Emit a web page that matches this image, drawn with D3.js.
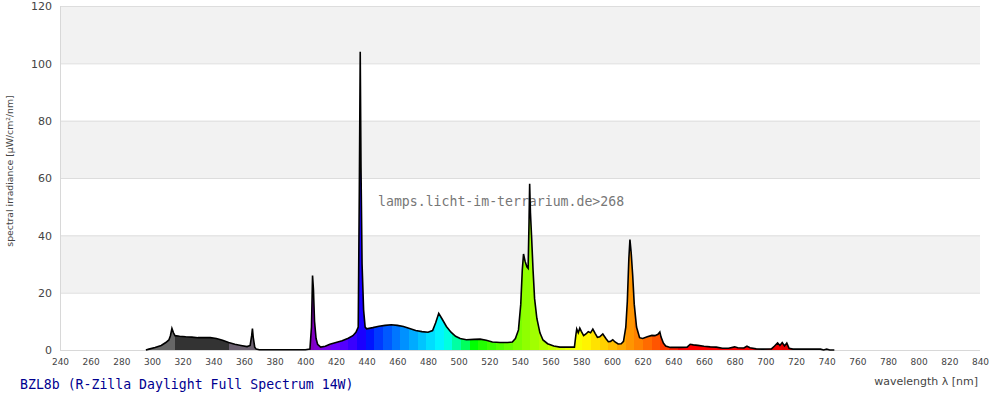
<!DOCTYPE html>
<html>
<head>
<meta charset="utf-8">
<script src="https://cdn.jsdelivr.net/npm/d3@7"></script>
<style>
  body { margin: 0; background: #fff; }
  .tickY text { font-family: "DejaVu Sans", sans-serif; font-size: 11px; fill: #444; }
  .tickX text { font-family: "DejaVu Sans", sans-serif; font-size: 9px; fill: #444; }
</style>
</head>
<body>
<div id="chart"></div>
<script>
const WIDTH = 1000;
const HEIGHT = 400;
const X_MIN = 240, X_MAX = 840;
const Y_MIN = 0, Y_MAX = 120;

const TITLE = "BZL8b (R-Zilla Daylight Full Spectrum 14W)";
const WATERMARK = "lamps.licht-im-terrarium.de>268";
const X_LABEL = "wavelength λ [nm]";
const Y_LABEL = "spectral irradiance [µW/cm²/nm]";

const xTicks = d3.range(240, 841, 20);
const yTicks = [0, 20, 40, 60, 80, 100, 120];

const wavelengths = [
  296, 298, 302, 306, 309, 311, 312, 313, 314, 315, 318, 322, 326, 330, 334, 338, 342, 346, 350,
  354, 358, 362, 364, 365, 365.5, 366, 367, 368, 370, 380, 400, 403, 404, 404.7, 405.3, 406, 407, 408, 410,
  413, 416, 420, 424, 428, 431, 433, 434.5, 435.2, 435.8, 436.3, 437, 438, 439, 440, 444, 448, 452, 456, 460,
  464, 468, 472, 476, 480, 483, 485, 487, 489, 492, 495, 498, 501, 505, 510, 514, 518, 522, 527, 532,
  535, 537, 539, 540.5, 541.5, 542.3, 543.3, 544.5, 545.3, 545.9, 546.3, 546.8, 547.6, 548.5, 549.5, 551, 553, 555, 558, 562,
  566, 570, 575.5, 576.5, 577, 578, 579, 580, 581.5, 583, 584.5, 586, 587.5, 589, 590.5, 592, 594, 596, 597.6, 599,
  600.5, 602, 604, 606, 607.5, 609, 610, 611, 611.7, 612.5, 613.5, 614.5, 616, 618, 620, 623, 626, 628, 630, 631.2,
  632, 633.5, 635, 638, 645, 649, 651, 653, 656, 660, 664, 668, 672, 676, 680, 682, 686, 688, 690, 694,
  698, 704, 706, 708, 709.5, 711, 712.5, 714, 715.5, 718, 730, 736, 738, 740, 742, 745
];
const irradiance = [
  0, 0.3, 0.9, 1.6, 2.6, 3.5, 5.0, 7.5, 6.0, 5.0, 4.8, 4.6, 4.5, 4.3, 4.3, 4.3, 4.0, 3.4, 2.6,
  2.0, 1.6, 1.2, 1.6, 5.0, 7.5, 4.5, 1.0, 0.3, 0.1, 0.1, 0.1, 0.3, 8, 26, 21, 10, 4, 2.0, 1.0,
  1.3, 2.0, 2.6, 3.2, 4.1, 5.0, 6.2, 8, 55, 104, 64, 30, 14, 8, 7.4, 7.8, 8.3, 8.6, 8.8, 8.6,
  8.2, 7.5, 6.8, 6.4, 6.2, 6.8, 9.5, 12.8, 11, 8.2, 6.2, 4.8, 4.0, 3.6, 3.7, 3.8, 3.4, 2.8, 2.6, 2.6,
  2.8, 4.0, 7, 16, 28, 33.5, 31, 29, 28.5, 45, 58, 48, 39, 28, 18, 11, 6, 3.5, 2.2, 1.4,
  1.0, 1.0, 1.0, 5.5, 7.3, 6.0, 7.6, 6.5, 5.0, 5.6, 6.4, 6.0, 7.3, 5.8, 4.4, 4.6, 5.6, 4.0, 2.9, 3.0,
  3.6, 2.8, 2.1, 2.2, 3.0, 8, 17, 32, 38.5, 34, 26, 16, 8, 4.3, 4.0, 4.6, 5.1, 5.0, 5.5, 6.3,
  4.5, 2.4, 1.4, 0.9, 0.9, 1.0, 2.0, 1.8, 1.6, 1.3, 1.1, 1.0, 0.6, 0.6, 1.1, 0.8, 0.7, 1.3, 0.8, 0.4,
  0.3, 0.4, 1.4, 2.5, 1.6, 2.6, 1.4, 2.4, 0.6, 0.3, 0.3, 0.3, 0, 0.3, 0, 0
];

const spectrum = wavelengths.map((w, i) => ({ w: w, v: irradiance[i] }));

const x = d3.scaleLinear().domain([X_MIN, X_MAX]).range([60, 980]);
const y = d3.scaleLinear().domain([Y_MIN, Y_MAX]).range([350, 6]);

const svg = d3.select("#chart").append("svg")
    .attr("width", WIDTH)
    .attr("height", HEIGHT);

// alternating bands
for (let i = 0; i < yTicks.length - 1; i++) {
    svg.append("rect")
        .attr("x", x(X_MIN))
        .attr("y", y(yTicks[i + 1]))
        .attr("width", x(X_MAX) - x(X_MIN))
        .attr("height", y(yTicks[i]) - y(yTicks[i + 1]))
        .attr("fill", i % 2 == 1 ? "#f2f2f2" : "#ffffff");
}

// grid lines
svg.append("g")
    .selectAll("line")
    .data(yTicks.slice(1))
    .join("line")
    .attr("x1", x(X_MIN)).attr("x2", x(X_MAX))
    .attr("y1", d => y(d) + 0.5).attr("y2", d => y(d) + 0.5)
    .attr("stroke", "#dddddd");

// axis lines
svg.append("line")
    .attr("x1", x(X_MIN) + 0.5).attr("x2", x(X_MIN) + 0.5)
    .attr("y1", y(Y_MAX)).attr("y2", y(0))
    .attr("stroke", "#d8d8d8");
svg.append("line")
    .attr("x1", x(X_MIN)).attr("x2", x(X_MAX))
    .attr("y1", y(0) + 0.5).attr("y2", y(0) + 0.5)
    .attr("stroke", "#d8d8d8");

// axes labels
const yAxis = svg.append("g")
    .attr("class", "tickY")
    .attr("transform", `translate(${x(X_MIN) - 8},0)`)
    .call(d3.axisLeft(y).tickValues(yTicks).tickSize(0).tickPadding(0));
yAxis.select(".domain").remove();
yAxis.selectAll("text").attr("dy", "0.35em");

const xAxis = svg.append("g")
    .attr("class", "tickX")
    .attr("transform", `translate(0,${y(0) + 9})`)
    .call(d3.axisBottom(x).tickValues(xTicks).tickSize(0).tickPadding(0));
xAxis.select(".domain").remove();

// watermark (under the spectrum)
svg.append("text")
    .attr("x", 378)
    .attr("y", 206)
    .attr("font-family", "'DejaVu Sans Mono', monospace")
    .attr("font-size", 13.2)
    .attr("fill", "#777")
    .text(WATERMARK);

// wavelength -> colour
const waveColor = (l) => {
    if (l < 315) return "#666666";
    if (l < 350) return "#333333";
    if (l < 382) return "#6b6070";
    let r = 0, g = 0, b = 0;
    if (l < 440) { r = -(l - 440) / 60; b = 1; }
    else if (l < 490) { g = (l - 440) / 50; b = 1; }
    else if (l < 510) { g = 1; b = -(l - 510) / 20; }
    else if (l < 580) { r = (l - 510) / 70; g = 1; }
    else if (l < 645) { r = 1; g = -(l - 645) / 65; }
    else { r = 1; }
    let f = 1;
    if (l < 420) f = 0.3 + 0.7 * (l - 380) / 40;
    else if (l > 700) f = 0.3 + 0.7 * (780 - l) / 80;
    const c = (v) => Math.round(255 * Math.pow(v * f, 0.8));
    return d3.rgb(c(r), c(g), c(b)).formatHex();
};

// hard-step gradient: UV bands, then visible bins of ~5.65 nm
const binEdges = [240, 315, 350];
for (let e = 445 - 5.65 * 11; e < 800; e += 5.65) binEdges.push(e);
binEdges.push(840);

const grad = svg.append("defs").append("linearGradient")
    .attr("id", "specGrad")
    .attr("gradientUnits", "userSpaceOnUse")
    .attr("x1", x(X_MIN)).attr("x2", x(X_MAX))
    .attr("y1", 0).attr("y2", 0);
for (let i = 0; i < binEdges.length - 1; i++) {
    const a = binEdges[i], b = binEdges[i + 1];
    const col = waveColor((a + b) / 2);
    grad.append("stop").attr("offset", (a - X_MIN) / (X_MAX - X_MIN)).attr("stop-color", col);
    grad.append("stop").attr("offset", (b - X_MIN) / (X_MAX - X_MIN)).attr("stop-color", col);
}

const area = d3.area()
    .x(d => x(d.w))
    .y0(y(0))
    .y1(d => y(d.v));
const line = d3.line()
    .x(d => x(d.w))
    .y(d => y(d.v));

svg.append("path")
    .datum(spectrum)
    .attr("d", area)
    .attr("fill", "url(#specGrad)");
svg.append("path")
    .datum(spectrum)
    .attr("d", line)
    .attr("fill", "none")
    .attr("stroke", "#000")
    .attr("stroke-width", 1.6)
    .attr("stroke-linejoin", "miter");

// title and axis titles
svg.append("text")
    .attr("x", 20)
    .attr("y", 389)
    .attr("font-family", "'DejaVu Sans Mono', monospace")
    .attr("font-size", 13.2)
    .attr("fill", "#000090")
    .text(TITLE);

svg.append("text")
    .attr("x", 978)
    .attr("y", 385)
    .attr("text-anchor", "end")
    .attr("font-family", "'DejaVu Sans', sans-serif")
    .attr("font-size", 11)
    .attr("fill", "#444")
    .text(X_LABEL);

svg.append("text")
    .attr("transform", "translate(13,171) rotate(-90)")
    .attr("text-anchor", "middle")
    .attr("font-family", "'DejaVu Sans', sans-serif")
    .attr("font-size", 9.3)
    .attr("fill", "#444")
    .text(Y_LABEL);
</script>
</body>
</html>
